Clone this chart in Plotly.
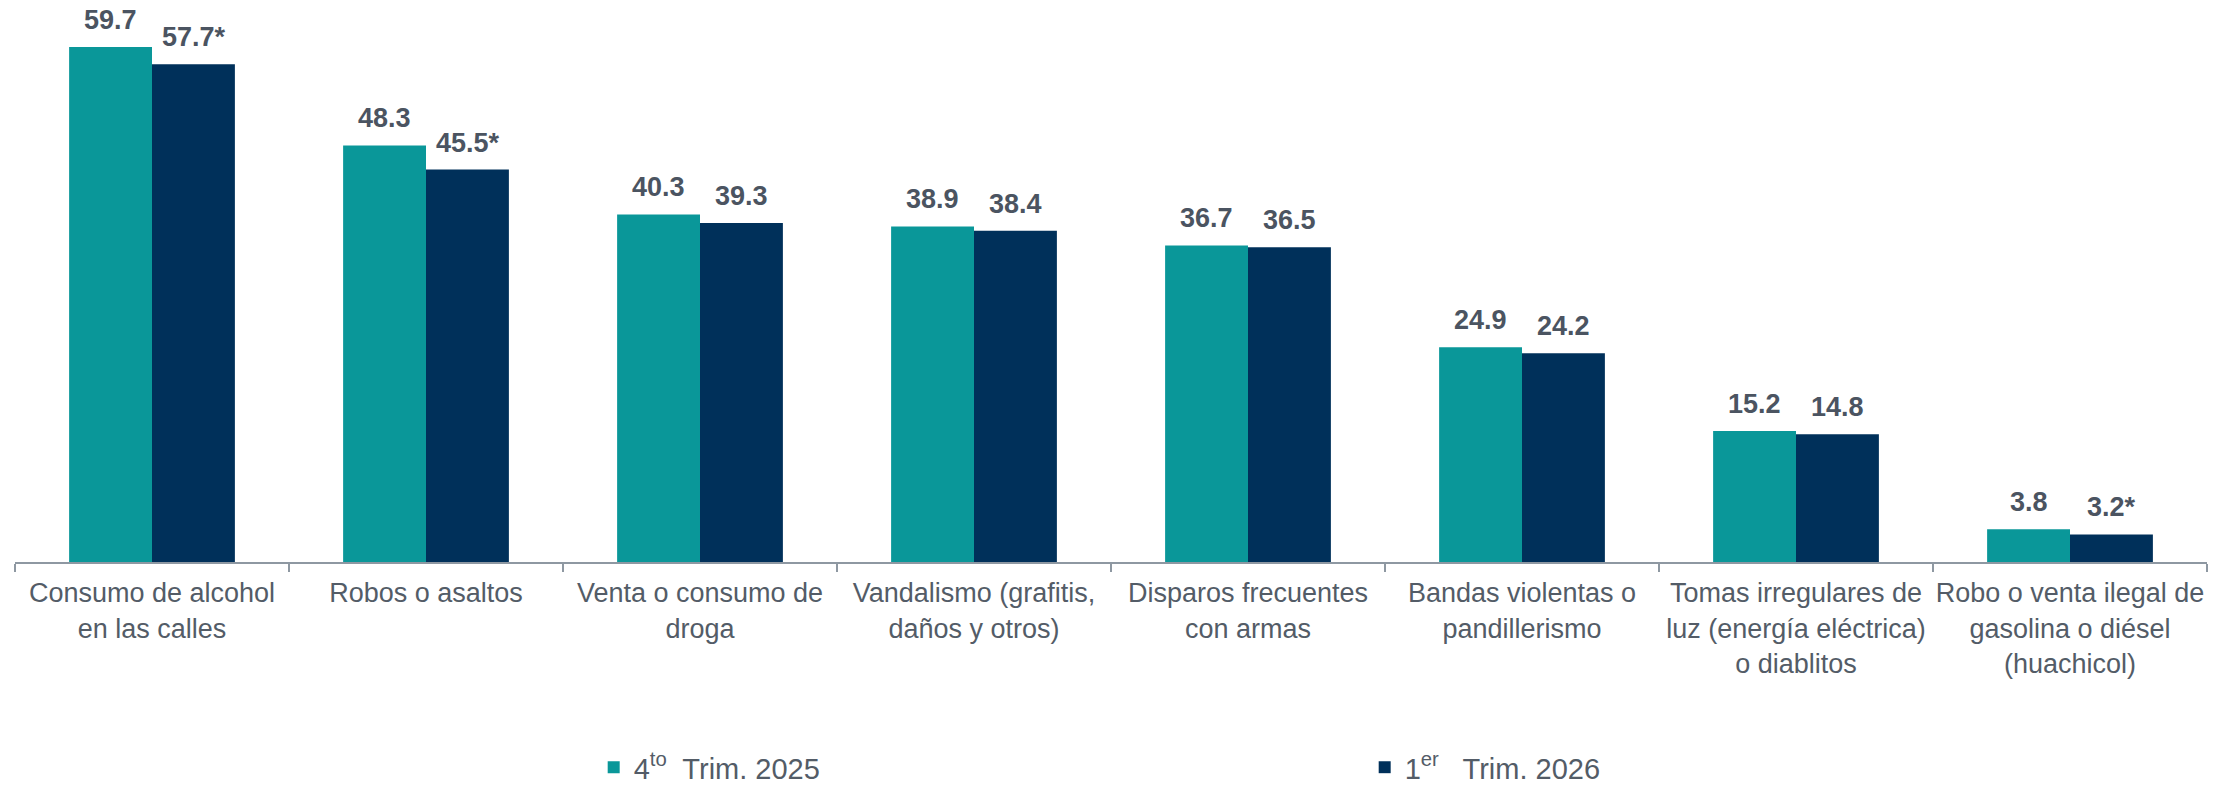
import plotly.graph_objects as go

categories = [
    "Consumo de alcohol<br>en las calles",
    "Robos o asaltos",
    "Venta o consumo de<br>droga",
    "Vandalismo (grafitis,<br>daños y otros)",
    "Disparos frecuentes<br>con armas",
    "Bandas violentas o<br>pandillerismo",
    "Tomas irregulares de<br>luz (energía eléctrica)<br>o diablitos",
    "Robo o venta ilegal de<br>gasolina o diésel<br>(huachicol)",
]
q4_2025 = [59.7, 48.3, 40.3, 38.9, 36.7, 24.9, 15.2, 3.8]
q1_2026 = [57.7, 45.5, 39.3, 38.4, 36.5, 24.2, 14.8, 3.2]
q1_2026_signif = [True, True, False, False, False, False, False, True]

names = ["4<sup>to</sup>\u00a0 Trim. 2025", "1<sup>er</sup>\u00a0\u00a0 Trim. 2026"]
colors = ["#0a9799", "#00305a"]
label_color = "#4b5461"
axis_text_color = "#535c67"
line_color = "#8e98a2"
font_family = "Liberation Sans, Arial, sans-serif"

txt1 = [f"{v:.1f}" for v in q4_2025]
txt2 = [f"{v:.1f}" + ("*" if s else "") for v, s in zip(q1_2026, q1_2026_signif)]

fig = go.Figure()
for vals, nm, col in [(q4_2025, names[0], colors[0]), (q1_2026, names[1], colors[1])]:
    fig.add_trace(go.Bar(
        x=categories, y=vals, name=nm, marker_color=col, marker_line_width=0,
    ))

half_bar = 41.5
for vals, texts, shift in [(q4_2025, txt1, -half_bar), (q1_2026, txt2, half_bar)]:
    for c, v, t in zip(categories, vals, texts):
        fig.add_annotation(
            x=c, y=v, xref="x", yref="y", text=t, showarrow=False,
            xanchor="center", yanchor="bottom", xshift=shift, yshift=10,
            font=dict(size=27, color=label_color, family=font_family, weight="bold"),
        )

fig.update_layout(
    width=2234, height=785,
    margin=dict(l=15, r=27, t=10, b=223, autoexpand=False),
    paper_bgcolor="white", plot_bgcolor="white",
    barmode="group", bargap=0.395, bargroupgap=0,
    font=dict(family=font_family, size=27, color=axis_text_color),
    showlegend=True,
    legend=dict(
        orientation="h", x=0.264, xanchor="left", y=-0.372, yanchor="middle",
        font=dict(size=29, color=axis_text_color),
        entrywidth=726, entrywidthmode="pixels",
        itemwidth=30, bgcolor="rgba(0,0,0,0)",
    ),
)
fig.update_xaxes(
    showline=True, linecolor=line_color, linewidth=2,
    ticks="outside", tickson="boundaries", ticklen=8, tickcolor=line_color, tickwidth=2,
    tickfont=dict(size=27, color=axis_text_color),
    tickangle=0, ticklabelstandoff=6,
    showgrid=False, zeroline=False,
)
fig.update_yaxes(visible=False, range=[0, 64.0], showgrid=False, zeroline=False)

fig.write_html(
    "out.html",
    config={"displayModeBar": False},
    post_script="document.body.style.margin='0';document.body.style.padding='0';"
                "document.documentElement.style.overflow='hidden';",
)
